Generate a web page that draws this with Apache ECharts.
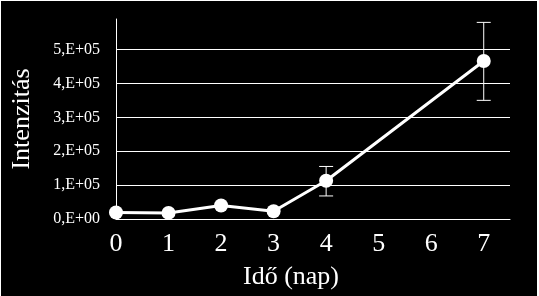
<!DOCTYPE html>
<html>
<head>
<meta charset="utf-8">
<script src="https://cdn.jsdelivr.net/npm/echarts@6/dist/echarts.min.js"></script>
<style>
html,body{margin:0;padding:0;background:#ffffff;width:539px;height:296px;overflow:hidden;}
#c{position:absolute;left:1px;top:1px;width:536px;height:295px;background:#000;}
</style>
</head>
<body>
<div id="c"></div>
<script>
// Data
const days = [0, 1, 2, 3, 4, 7];
const intensity = [19000, 18000, 40000, 23000, 113000, 466000];
const errLow = [null, null, null, null, 68000, 350000];
const errHigh = [null, null, null, null, 155000, 580000];
const xTicks = [0, 1, 2, 3, 4, 5, 6, 7];
const yTicks = [0, 100000, 200000, 300000, 400000, 500000];

const font = 'Liberation Serif, Times New Roman, serif';
const chart = echarts.init(document.getElementById('c'), null, {renderer: 'canvas'});

const lineData = days.map((d, i) => [d, intensity[i]]);
const errData = days.map((d, i) => [d, errLow[i], errHigh[i]]).filter(r => r[1] !== null);

chart.setOption({
  backgroundColor: '#000',
  animation: false,
  grid: {left: 114, right: 27, top: 18, bottom: 77, containLabel: false},
  xAxis: {
    type: 'value', min: 0, max: 7.5, interval: 1,
    axisLine: {show: true, lineStyle: {color: '#fff', width: 1}},
    axisTick: {show: false},
    splitLine: {show: false},
    axisLabel: {
      color: '#fff', fontFamily: font, fontSize: 26, margin: 12,
      showMaxLabel: false,
      formatter: v => (xTicks.indexOf(v) >= 0 ? String(v) : '')
    },
    name: 'Idő (nap)', nameLocation: 'middle', nameGap: 45,
    nameTextStyle: {color: '#fff', fontFamily: font, fontSize: 26, padding: [0, 44, 0, 0]}
  },
  yAxis: {
    type: 'value', min: 0, max: 590000, interval: 100000,
    axisLine: {show: true, lineStyle: {color: '#fff', width: 1}},
    axisTick: {show: false},
    splitLine: {show: true, showMaxLine: false, lineStyle: {color: '#fff', width: 1}},
    axisLabel: {
      color: '#fff', fontFamily: font, fontSize: 16, margin: 16,
      showMaxLabel: false,
      formatter: v => (yTicks.indexOf(v) < 0 ? '' : (v === 0 ? '0,E+00' : (v / 100000) + ',E+05'))
    },
    name: 'Intenzitás', nameLocation: 'middle', nameGap: 81,
    nameTextStyle: {color: '#fff', fontFamily: font, fontSize: 26}
  },
  series: [
    {
      type: 'custom',
      data: errData,
      z: 1,
      renderItem: function (params, api) {
        const x = api.value(0);
        const lo = api.coord([x, api.value(1)]);
        const hi = api.coord([x, api.value(2)]);
        const half = 7;
        const st = {stroke: '#fff', lineWidth: 1};
        return {
          type: 'group',
          children: [
            {type: 'line', shape: {x1: lo[0], y1: lo[1], x2: hi[0], y2: hi[1]}, style: st},
            {type: 'line', shape: {x1: lo[0] - half, y1: lo[1], x2: lo[0] + half, y2: lo[1]}, style: st},
            {type: 'line', shape: {x1: hi[0] - half, y1: hi[1], x2: hi[0] + half, y2: hi[1]}, style: st}
          ]
        };
      }
    },
    {
      type: 'line',
      data: lineData,
      z: 3,
      symbol: 'circle',
      symbolSize: 14,
      lineStyle: {color: '#fff', width: 3},
      itemStyle: {color: '#fff'}
    }
  ]
});
</script>
</body>
</html>
